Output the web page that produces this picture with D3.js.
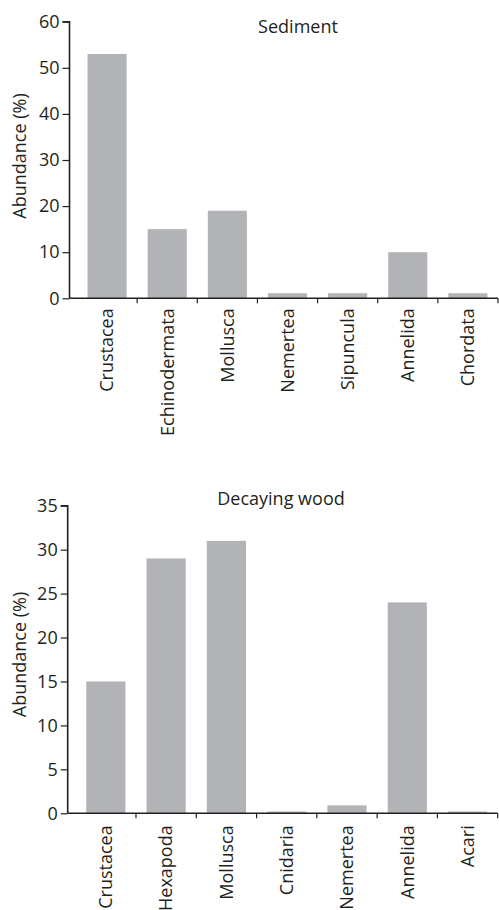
<!DOCTYPE html>
<html>
<head>
<meta charset="utf-8">
<script src="https://cdn.jsdelivr.net/npm/d3@7"></script>
<style>
  body { margin: 0; background: #fff; }
  svg { display: block; }
  text { font-family: "Open Sans", sans-serif; fill: #231f20; }
</style>
</head>
<body>
<svg id="chart" width="499" height="910"></svg>
<script>
// Sediment panel
const sedimentCategories = ["Crustacea", "Echinodermata", "Mollusca", "Nemertea", "Sipuncula", "Annelida", "Chordata"];
const sedimentValues = [53, 15, 19, 1.1, 1.1, 10, 1.1];
const sedimentTicks = [0, 10, 20, 30, 40, 50, 60];

// Decaying wood panel
const woodCategories = ["Crustacea", "Hexapoda", "Mollusca", "Cnidaria", "Nemertea", "Annelida", "Acari"];
const woodValues = [15, 29, 31, 0.2, 0.9, 24, 0.2];
const woodTicks = [0, 5, 10, 15, 20, 25, 30, 35];

const svg = d3.select("#chart");
const barColor = "#b2b3b6";
const fontSize = 18;

function panel(cfg) {
  const g = svg.append("g");
  const x = d3.scaleBand().domain(cfg.categories).range([cfg.x0, cfg.x1]).padding(0);
  const y = d3.scaleLinear().domain([0, cfg.yMax]).range([cfg.yBottom, cfg.yTop]);
  const barW = x.bandwidth() * 0.65;

  // bars
  g.selectAll("rect.bar").data(cfg.values).enter().append("rect")
    .attr("class", "bar")
    .attr("x", (d, i) => x(cfg.categories[i]) + (x.bandwidth() - barW) / 2)
    .attr("width", barW)
    .attr("y", d => y(d))
    .attr("height", d => y(0) - y(d))
    .attr("fill", barColor);

  // y axis
  const yAxis = d3.axisLeft(y).tickValues(cfg.ticks).tickSize(7).tickPadding(3);
  const ya = g.append("g").attr("transform", `translate(${cfg.axisX},0)`).call(yAxis);
  ya.select(".domain").attr("stroke", "#231f20").attr("stroke-width", 1.6)
    .attr("d", `M-7,${y(cfg.yMax)}H0V${y(0)}`);
  ya.selectAll(".tick line").attr("stroke", "#231f20").attr("stroke-width", 1.2);
  ya.selectAll(".tick text").style("font-size", fontSize + "px").style("font-family", '"Open Sans", sans-serif').attr("fill", "#231f20");

  // x axis line
  g.append("line")
    .attr("x1", cfg.axisX).attr("x2", cfg.x1)
    .attr("y1", y(0)).attr("y2", y(0))
    .attr("stroke", "#231f20").attr("stroke-width", 1.6);
  // x ticks at band boundaries
  g.selectAll("line.xt").data(cfg.categories).enter().append("line")
    .attr("class", "xt")
    .attr("x1", d => x(d) + x.bandwidth()).attr("x2", d => x(d) + x.bandwidth())
    .attr("y1", y(0)).attr("y2", y(0) + 5)
    .attr("stroke", "#231f20").attr("stroke-width", 1.2);
  // category labels
  g.selectAll("text.cat").data(cfg.categories).enter().append("text")
    .attr("class", "cat")
    .attr("transform", d => `translate(${x(d) + x.bandwidth() / 2},${y(0) + cfg.labelGap}) rotate(-90)`)
    .attr("text-anchor", "end")
    .attr("dy", "0.35em")
    .style("font-size", fontSize + "px")
    .text(d => d);

  // y label
  g.append("text")
    .attr("transform", `translate(20,${(y(0) + y(cfg.yMax)) / 2 + cfg.ylabShift}) rotate(-90)`)
    .attr("text-anchor", "middle")
    .attr("dy", "0.35em")
    .style("font-size", fontSize + "px")
    .text("Abundance (%)");

  // title
  g.append("text")
    .attr("x", cfg.titleX).attr("y", cfg.titleY)
    .attr("text-anchor", "middle")
    .style("font-size", fontSize + "px")
    .text(cfg.title);
}

panel({
  categories: sedimentCategories, values: sedimentValues, ticks: sedimentTicks,
  yMax: 60, x0: 77, x1: 498, axisX: 69.5, yBottom: 298.3, yTop: 21.7,
  labelGap: 10, ylabShift: -4, title: "Sediment", titleX: 298, titleY: 33
});

panel({
  categories: woodCategories, values: woodValues, ticks: woodTicks,
  yMax: 35, x0: 75.7, x1: 497.7, axisX: 67.7, yBottom: 813.3, yTop: 505.7,
  labelGap: 12, ylabShift: -5, title: "Decaying wood", titleX: 281, titleY: 505
});
</script>
</body>
</html>
